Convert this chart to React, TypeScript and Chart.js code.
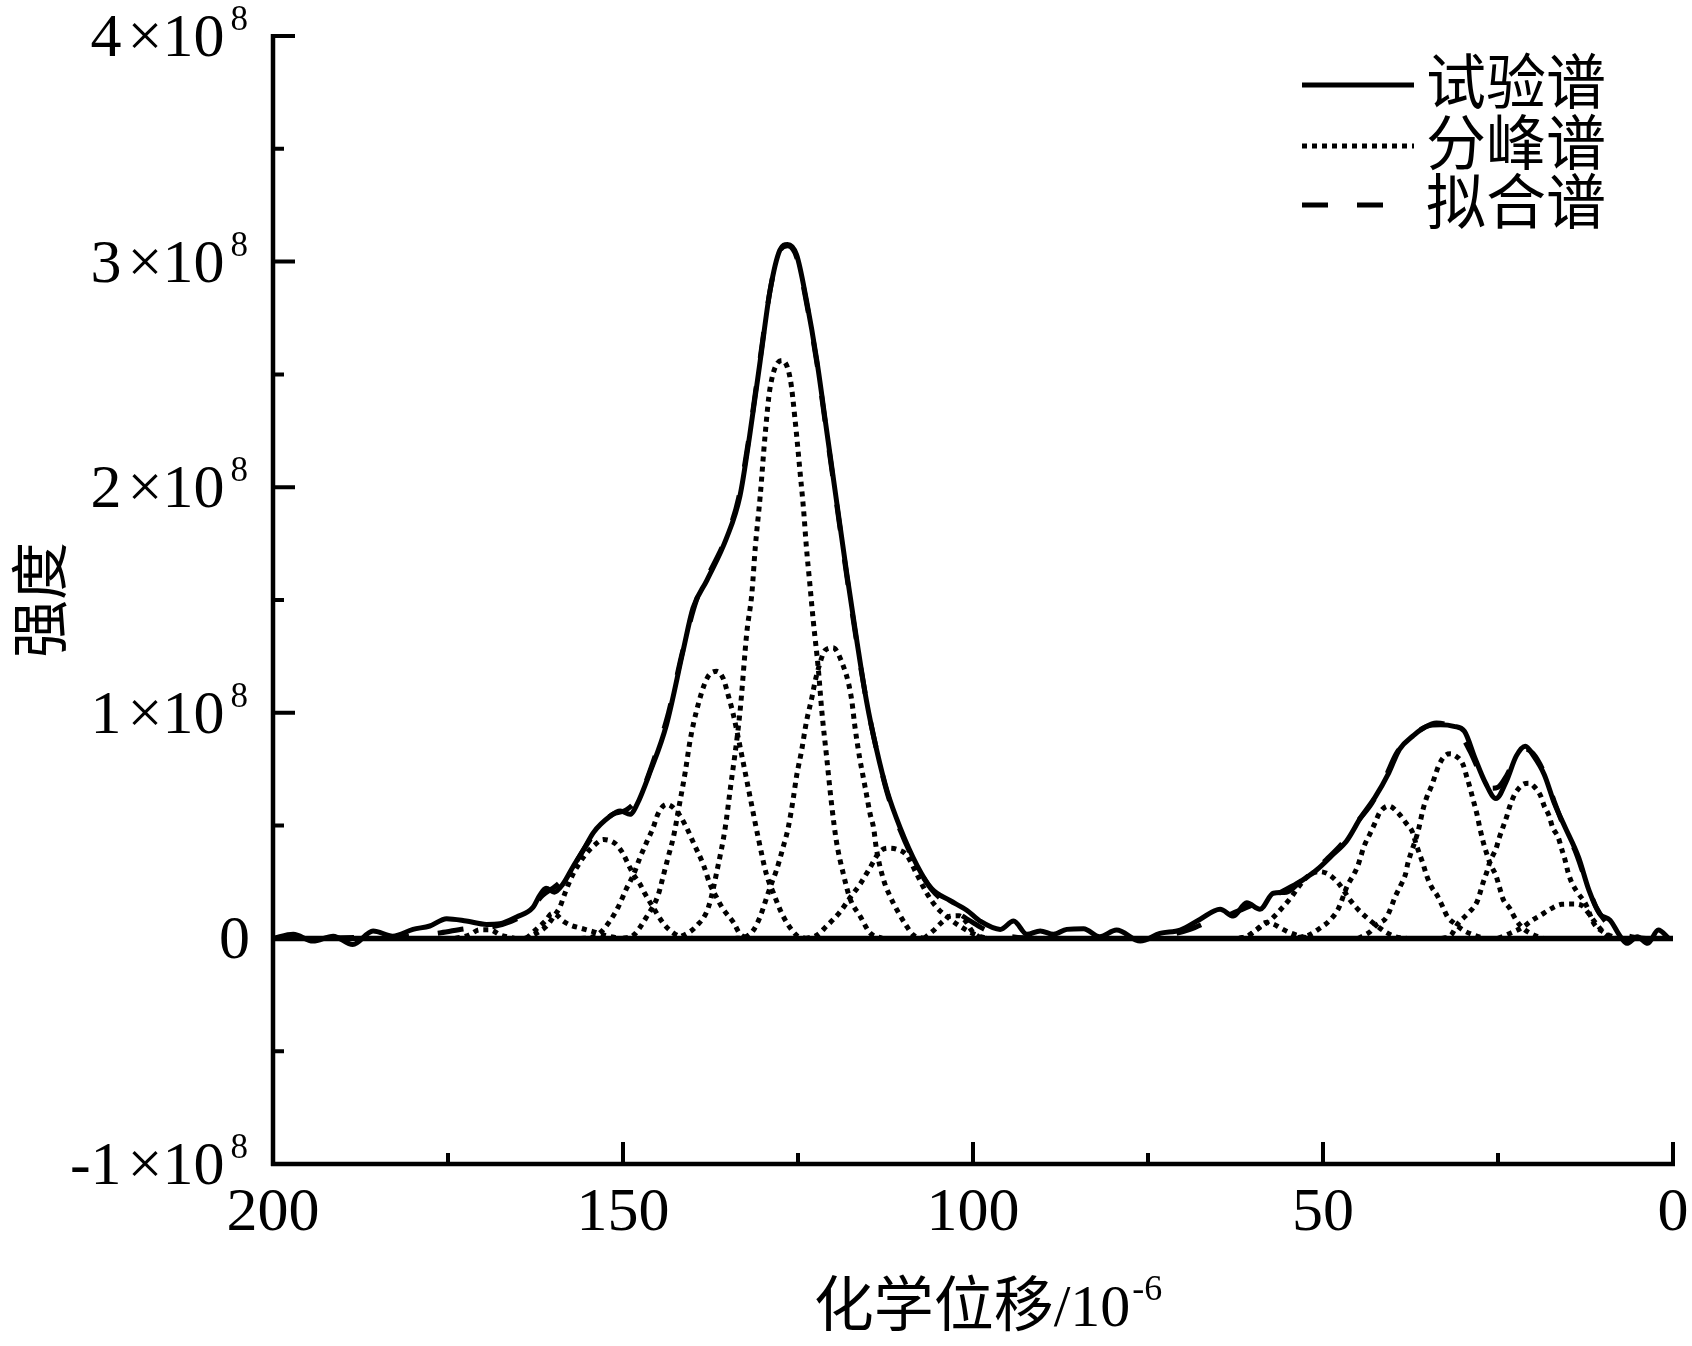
import { useEffect, useRef } from "react";
import { Chart, registerables } from "chart.js";

Chart.register(...registerables);

// 化学位移 (10^-6) / 强度 (×10^8)
const expShift = [
  200, 197.1, 194.3, 191.4, 188.6, 185.7, 182.9, 180, 177.6, 175.2, 172.4, 169.5, 167.6, 165.2,
  162.9, 161.9, 161, 159.8, 158.6, 157.1, 155.7, 154.2, 151.9, 150.4, 149, 148, 146.1, 143.8,
  141.4, 140, 138, 135.2, 133.3, 131.9, 130.4, 129, 127.6, 126.5, 125.2, 123.8, 122.3, 120.9,
  119.5, 118, 116.6, 115.2, 113.8, 112.3, 110.4, 108, 105.9, 103.3, 100.9, 99, 96.1, 94.2, 92.3,
  90.4, 88.5, 86.6, 84.2, 81.9, 79.5, 76.1, 73.3, 70.4, 67.6, 64.7, 62.8, 60.9, 59, 57.1, 55.2,
  53.3, 51, 48.5, 46.6, 44.6, 42.6, 40.6, 39.1, 37.2, 35.2, 33.2, 31.3, 29.8, 28.3, 26.8, 25.3,
  23.8, 22.4, 21.1, 19.9, 18.4, 16.9, 15.4, 13.5, 12, 10.5, 9, 7.5, 6.6, 5.1, 3.6, 2.1, 0.6,
];
const expIntensity = [
  0, 0.018, -0.012, 0.01, -0.027, 0.033, 0.01, 0.04, 0.055, 0.087, 0.077, 0.062, 0.065, 0.095,
  0.136, 0.19, 0.222, 0.205, 0.24, 0.32, 0.39, 0.47, 0.54, 0.565, 0.55, 0.594, 0.74, 0.946,
  1.277, 1.464, 1.588, 1.775, 1.96, 2.23, 2.56, 2.87, 3.05, 3.076, 3.03, 2.83, 2.56, 2.25,
  1.94, 1.61, 1.32, 1.05, 0.84, 0.656, 0.49, 0.324, 0.22, 0.168, 0.125, 0.077, 0.04, 0.077, 0.018,
  0.033, 0.018, 0.04, 0.043, 0.007, 0.037, -0.012, 0.022, 0.037, 0.084, 0.129, 0.099, 0.158, 0.129,
  0.2, 0.205, 0.25, 0.301, 0.374, 0.433, 0.536, 0.624, 0.734, 0.837, 0.896, 0.94, 0.947, 0.94,
  0.918, 0.8, 0.69, 0.62, 0.697, 0.808, 0.852, 0.808, 0.727, 0.595, 0.492, 0.36, 0.213, 0.11,
  0.081, 0.007, -0.022, 0.007, -0.022, 0.037, 0,
];

const fitShift = [
  200, 190, 180, 176, 172, 169, 166, 163.5, 161.5, 159.5, 157.5, 155.5, 153.5, 151.5, 149.5, 147.5,
  145.5, 143.5, 141.5, 139.5, 137.5, 135.5, 133.5, 132, 130.5, 129, 127.7, 126.5, 125.2, 123.8,
  122.3, 120.9, 119.5, 118, 116.6, 115.2, 113.8, 112.3, 110.4, 108, 106, 104, 102, 100, 98, 95, 90,
  75, 72, 69, 66, 63, 60, 57, 54.5, 52, 49.5, 47, 45, 43, 41, 39.5, 37.5, 35.5, 33.8, 32.2, 30.5,
  29, 27.5, 26, 25, 23.8, 22.5, 21.2, 20, 18.5, 17, 15.5, 14, 12.5, 11, 9.5, 8, 6, 3, 0,
];
const fitIntensity = [
  0, 0.003, 0.01, 0.025, 0.045, 0.05, 0.075, 0.12, 0.19, 0.235, 0.3, 0.4, 0.49, 0.55, 0.57, 0.64,
  0.8, 1.0, 1.27, 1.5, 1.63, 1.76, 1.95, 2.22, 2.55, 2.87, 3.04, 3.07, 3.02, 2.82,
  2.55, 2.24, 1.93, 1.6, 1.31, 1.05, 0.84, 0.65, 0.48, 0.32, 0.22, 0.16, 0.11, 0.07, 0.035, 0.01, 0,
  0, 0.015, 0.04, 0.08, 0.11, 0.15, 0.19, 0.23, 0.28, 0.35, 0.43, 0.52, 0.6, 0.72, 0.82, 0.89, 0.935,
  0.955, 0.945, 0.91, 0.83, 0.73, 0.665, 0.67, 0.72, 0.8, 0.84, 0.82, 0.74, 0.61, 0.49, 0.39, 0.26,
  0.14, 0.07, 0.03, 0.008, 0, 0,
];

// 分峰谱: component peaks as [shift, intensity]
const peak170 = [[174, 0], [172, 0.015], [170.5, 0.038], [169, 0.038], [167.5, 0.015], [165.5, 0]];
const peak160 = [
  [163.8, 0], [162.4, 0.04], [161, 0.08], [160.2, 0.11], [159.5, 0.104], [158.6, 0.078], [157.6, 0.06],
  [156, 0.045], [154.3, 0.03], [152.4, 0.012], [150.5, 0],
];
const peak153 = [
  [164, 0], [162.3, 0.024], [160.9, 0.055], [159.9, 0.097], [159, 0.14], [158.3, 0.2], [157.3, 0.275],
  [156.4, 0.325], [155.4, 0.37], [154.2, 0.41], [152.8, 0.438], [151.1, 0.42], [150, 0.376],
  [149.2, 0.325], [148.5, 0.283], [147.6, 0.242], [146.9, 0.2], [145.9, 0.148], [144.2, 0.065],
  [142.8, 0.024], [141.4, 0.003], [140, 0],
];
const peak144 = [
  [156, 0], [154.7, 0.003], [153.3, 0.024], [151.9, 0.076], [150.7, 0.138], [149.5, 0.221], [148.5, 0.283],
  [147.6, 0.356], [146.6, 0.428], [145.7, 0.49], [145, 0.552], [143.8, 0.594], [142.3, 0.563],
  [140.9, 0.49], [140, 0.428], [138.5, 0.325], [137.6, 0.242], [136.6, 0.18], [135.7, 0.13],
  [134.2, 0.07], [133.3, 0.02], [132, 0],
];
const peak137 = [
  [150, 0], [148.5, 0.014], [146.6, 0.097], [145, 0.19], [144.2, 0.283], [143.5, 0.366], [142.8, 0.449],
  [141.9, 0.6], [141.1, 0.739], [140.4, 0.88], [139.5, 1.008], [138, 1.153], [136.6, 1.184],
  [135.7, 1.153], [134.9, 1.07], [134.2, 0.987], [133.1, 0.822], [131.9, 0.635], [130.7, 0.449],
  [129.5, 0.283], [128.5, 0.2], [127.1, 0.097], [125.2, 0.014], [124, 0],
];
const peak127 = [
  [143, 0], [141.6, 0.01], [139.5, 0.055], [137.8, 0.138], [136.4, 0.325], [135.4, 0.49], [134.7, 0.656],
  [133.3, 1.0], [132.3, 1.36], [131.6, 1.526], [131.1, 1.734], [130.4, 1.961], [129.7, 2.231],
  [129, 2.438], [127.3, 2.562], [126.1, 2.479], [125.4, 2.293], [124.7, 2.065], [124.2, 1.899],
  [123.8, 1.734], [123.3, 1.568], [122.8, 1.402], [122.1, 1.195], [121.6, 1.008], [120.9, 0.801],
  [120.2, 0.594], [119.5, 0.428], [118.5, 0.283], [117.6, 0.179], [116.1, 0.097], [114.7, 0.024], [113, 0],
];
const peak120 = [
  [134, 0], [132.8, 0.003], [131.4, 0.035], [130.4, 0.097], [129.5, 0.179], [128.8, 0.242], [128.1, 0.3],
  [127.1, 0.407], [126.4, 0.49], [125.7, 0.615], [125.2, 0.72], [124.5, 0.83], [123.8, 0.96],
  [123, 1.07], [122.6, 1.133], [122.1, 1.195], [121.1, 1.278], [120, 1.288], [118.5, 1.205],
  [117.8, 1.133], [117.3, 1.05], [116.9, 0.946], [116.2, 0.801], [115.7, 0.718], [115.2, 0.635],
  [114.7, 0.552], [114.2, 0.49], [113.8, 0.397], [112.8, 0.262], [111.9, 0.19], [110.7, 0.117],
  [109.5, 0.055], [108.5, 0.014], [107, 0],
];
const peak112 = [
  [124, 0], [122.3, 0.014], [120.9, 0.055], [119, 0.117], [117.6, 0.179], [116.1, 0.242], [114.7, 0.314],
  [113.3, 0.385], [112.1, 0.4], [110.9, 0.395], [109.5, 0.37], [108, 0.283], [106.6, 0.2],
  [105.2, 0.138], [103.3, 0.086], [101.4, 0.045], [99.5, 0.014], [98, 0],
];
const peak103 = [
  [107, 0], [105.7, 0.033], [104.5, 0.07], [103.3, 0.098], [102, 0.1], [100.9, 0.07], [100.2, 0.035],
  [99.2, 0.008], [98, 0],
];
const peak58 = [
  [62, 0], [60.5, 0.015], [59.4, 0.04], [58.2, 0.07], [57.2, 0.065], [56, 0.045], [54.7, 0.025],
  [53, 0.008], [51.5, 0],
];
const peak50 = [
  [62, 0], [60.9, 0.007], [59.9, 0.03], [58.5, 0.06], [57.4, 0.085], [55.7, 0.14], [54.5, 0.184],
  [53.5, 0.228], [52, 0.28], [50.6, 0.296], [49.3, 0.286], [47.8, 0.245], [46.1, 0.169], [45.1, 0.132],
  [43.6, 0.088], [42.1, 0.051], [41.1, 0.029], [39.6, 0.007], [38, 0],
];
const peak41 = [
  [55, 0], [53.5, 0.004], [52, 0.015], [50.5, 0.044], [49, 0.081], [47.8, 0.132], [46.6, 0.228],
  [45.1, 0.316], [44.1, 0.411], [43.3, 0.463], [42.6, 0.51], [41.9, 0.558], [40.6, 0.587],
  [39.2, 0.554], [38.2, 0.514], [37.2, 0.47], [36.7, 0.418], [36.2, 0.374], [35.7, 0.33],
  [35.2, 0.279], [34.5, 0.228], [33.7, 0.191], [33, 0.147], [32.2, 0.095], [31.2, 0.066],
  [30, 0.037], [28.5, 0.015], [27, 0],
];
const peak32 = [
  [45, 0], [43.3, 0.029], [42.4, 0.059], [40.9, 0.095], [39.6, 0.191], [38.9, 0.235], [38.2, 0.286],
  [37.9, 0.33], [37.4, 0.382], [36.9, 0.426], [36.4, 0.477], [35.7, 0.573], [35.2, 0.624],
  [34.5, 0.675], [34, 0.72], [33.5, 0.764], [32.5, 0.812], [31.8, 0.818], [31.2, 0.812], [30, 0.771],
  [29.5, 0.72], [29, 0.668], [28.6, 0.62], [28, 0.55], [27.6, 0.49], [27.1, 0.426], [26.6, 0.374],
  [26.1, 0.33], [25.3, 0.279], [24.8, 0.228], [24.3, 0.176], [23.3, 0.132], [22.4, 0.081],
  [21.4, 0.044], [19.9, 0.015], [18.5, 0],
];
const peak21 = [
  [33, 0], [31.7, 0.015], [30.7, 0.066], [29.3, 0.11], [28, 0.162], [27.6, 0.198], [27.1, 0.25],
  [26.6, 0.294], [26.1, 0.345], [25.3, 0.396], [24.8, 0.448], [24.3, 0.492], [23.8, 0.536],
  [23.3, 0.587], [22.6, 0.639], [21.4, 0.683], [20.6, 0.688], [19.9, 0.675], [18.9, 0.631],
  [18.4, 0.587], [17.7, 0.543], [17.2, 0.492], [16.4, 0.448], [15.9, 0.396], [15.4, 0.345],
  [15, 0.294], [14.5, 0.25], [13.7, 0.206], [12.5, 0.154], [11.3, 0.066], [10, 0.029], [8.5, 0.007], [7, 0],
];
const peak15 = [
  [25, 0], [23.3, 0.022], [21.4, 0.051], [20.1, 0.081], [18.9, 0.103], [17.4, 0.132], [15.9, 0.151],
  [14.2, 0.152], [13, 0.145], [12.2, 0.117], [11, 0.066], [9.5, 0.015], [8.3, 0],
];
const componentPeaks = [
  peak170, peak160, peak153, peak144, peak137, peak127, peak120, peak112, peak103,
  peak58, peak50, peak41, peak32, peak21, peak15,
];

const zeroShift = [200, 0];
const zeroIntensity = [0, 0];

const xMajorTicks = [200, 150, 100, 50, 0];
const xMinorTicks = [175, 125, 75, 25];
const yMajorTicks = [-1, 0, 1, 2, 3, 4];
const yMinorTicks = [-0.5, 0.5, 1.5, 2.5, 3.5];
const yTickExponent = "8";
const legendLabels = ["试验谱", "分峰谱", "拟合谱"];
const xTitle = "化学位移/10";
const xTitleExponent = "-6";
const yTitle = "强度";

const SERIF = '"Liberation Serif", "Times New Roman", serif';
const MIXED = '"Liberation Serif", "Noto Sans CJK SC", serif';
const CJK = '"Noto Sans CJK SC", sans-serif';

const SOLID: number[] = [];
const DOTTED = [5, 5];
const DASHED = [26, 29];

function toPoints(xs: number[], ys: number[]) {
  return xs.map((x, i) => ({ x, y: ys[i] }));
}

const decorPlugin = {
  id: "decor",
  afterDraw(chart: any) {
    const { ctx, chartArea: a, scales } = chart;
    const xs = scales.x;
    const ys = scales.y;
    ctx.save();
    ctx.strokeStyle = "#000";
    ctx.fillStyle = "#000";
    ctx.setLineDash([]);
    ctx.lineCap = "butt";

    // axis lines
    ctx.lineWidth = 4.5;
    ctx.beginPath();
    ctx.moveTo(a.left, a.top - 2);
    ctx.lineTo(a.left, a.bottom + 2);
    ctx.moveTo(a.left - 2, a.bottom);
    ctx.lineTo(a.right + 2, a.bottom);
    ctx.stroke();

    // ticks, pointing into the plot
    ctx.lineWidth = 4;
    ctx.beginPath();
    yMajorTicks.forEach((v) => {
      const y = ys.getPixelForValue(v);
      ctx.moveTo(a.left, y);
      ctx.lineTo(a.left + 22, y);
    });
    yMinorTicks.forEach((v) => {
      const y = ys.getPixelForValue(v);
      ctx.moveTo(a.left, y);
      ctx.lineTo(a.left + 11, y);
    });
    xMajorTicks.forEach((v) => {
      const x = xs.getPixelForValue(v);
      ctx.moveTo(x, a.bottom);
      ctx.lineTo(x, a.bottom - 22);
    });
    xMinorTicks.forEach((v) => {
      const x = xs.getPixelForValue(v);
      ctx.moveTo(x, a.bottom);
      ctx.lineTo(x, a.bottom - 11);
    });
    ctx.stroke();

    // y tick labels: n×10^8
    ctx.textBaseline = "alphabetic";
    const labelRight = a.left - 25;
    yMajorTicks.forEach((v) => {
      const y = ys.getPixelForValue(v);
      if (v === 0) {
        ctx.font = `62px ${SERIF}`;
        ctx.textAlign = "right";
        ctx.fillText("0", labelRight + 2, y + 20);
        return;
      }
      ctx.font = `35px ${SERIF}`;
      ctx.textAlign = "right";
      const supW = ctx.measureText(yTickExponent).width;
      ctx.fillText(yTickExponent, labelRight, y - 6);
      ctx.font = `62px ${SERIF}`;
      const base = "×10";
      const baseRight = labelRight - supW - 6;
      ctx.fillText(base, baseRight, y + 20);
      const baseW = ctx.measureText(base).width;
      ctx.fillText(String(v), baseRight - baseW - 6, y + 20);
    });

    // x tick labels
    ctx.font = `62px ${SERIF}`;
    ctx.textAlign = "center";
    xMajorTicks.forEach((v) => {
      ctx.fillText(String(v), xs.getPixelForValue(v), a.bottom + 66);
    });

    // x title with superscript
    ctx.font = `60px ${MIXED}`;
    const tW = ctx.measureText(xTitle).width;
    ctx.font = `36px ${SERIF}`;
    const eW = ctx.measureText(xTitleExponent).width;
    const tX = (a.left + a.right) / 2 + 15 - (tW + eW + 2) / 2;
    ctx.textAlign = "left";
    ctx.font = `60px ${MIXED}`;
    ctx.fillText(xTitle, tX, a.bottom + 162);
    ctx.font = `36px ${SERIF}`;
    ctx.fillText(xTitleExponent, tX + tW + 2, a.bottom + 162 - 26);

    // y title
    ctx.save();
    ctx.translate(39, (a.top + a.bottom) / 2);
    ctx.rotate(-Math.PI / 2);
    ctx.font = `58px ${CJK}`;
    ctx.textAlign = "center";
    ctx.textBaseline = "middle";
    ctx.fillText(yTitle, 0, 0);
    ctx.restore();

    // legend
    const rows = [85, 146, 205];
    const dashes = [SOLID, DOTTED, DASHED];
    const widths = [5, 5, 5];
    const lengths = [112, 112, 82];
    legendLabels.forEach((label, i) => {
      ctx.setLineDash(dashes[i]);
      ctx.lineWidth = widths[i];
      ctx.beginPath();
      ctx.moveTo(1302, rows[i]);
      ctx.lineTo(1302 + lengths[i], rows[i]);
      ctx.stroke();
      ctx.setLineDash([]);
      ctx.font = `60px ${CJK}`;
      ctx.textAlign = "left";
      ctx.textBaseline = "middle";
      ctx.fillText(label, 1426, rows[i] - 4);
    });

    ctx.restore();
  },
};

export default function App() {
  const canvasRef = useRef<HTMLCanvasElement>(null);
  const chartRef = useRef<Chart | null>(null);

  useEffect(() => {
    document.body.style.margin = "0";
    document.body.style.background = "#fff";
    if (!canvasRef.current) return;
    if (chartRef.current) {
      chartRef.current.destroy();
      chartRef.current = null;
    }
    const ctx = canvasRef.current.getContext("2d");
    if (!ctx) return;

    const line = {
      borderColor: "#000",
      backgroundColor: "#000",
      pointRadius: 0,
      fill: false,
      cubicInterpolationMode: "monotone" as const,
      borderCapStyle: "butt" as const,
    };

    chartRef.current = new Chart(ctx, {
      type: "line",
      data: {
        datasets: [
          {
            ...line,
            label: legendLabels[0],
            data: toPoints(expShift, expIntensity),
            borderWidth: 5,
            order: 0,
          },
          {
            ...line,
            label: legendLabels[2],
            data: toPoints(fitShift, fitIntensity),
            borderWidth: 5,
            borderDash: DASHED,
            order: 1,
          },
          ...componentPeaks.map((p) => ({
            ...line,
            label: legendLabels[1],
            data: p.map(([x, y]) => ({ x, y })),
            borderWidth: 5,
            borderDash: DOTTED,
            order: 2,
          })),
          {
            ...line,
            label: "0",
            data: toPoints(zeroShift, zeroIntensity),
            borderWidth: 5.5,
            order: 3,
          },
        ],
      },
      options: {
        responsive: false,
        animation: false,
        layout: { padding: { top: 36, right: 19, left: 0, bottom: 0 } },
        plugins: {
          legend: { display: false },
          tooltip: { enabled: false },
        },
        scales: {
          x: {
            type: "linear",
            min: 0,
            max: 200,
            reverse: true,
            grid: { display: false },
            border: { display: false },
            ticks: { display: false },
            afterFit: (s: any) => {
              s.height = 182;
            },
          },
          y: {
            type: "linear",
            min: -1,
            max: 4,
            grid: { display: false },
            border: { display: false },
            ticks: { display: false },
            afterFit: (s: any) => {
              s.width = 273;
            },
          },
        },
      },
      plugins: [decorPlugin],
    });

    return () => {
      chartRef.current?.destroy();
      chartRef.current = null;
    };
  }, []);

  return (
    <div style={{ width: "1692px", height: "1346px", background: "#fff" }}>
      <canvas ref={canvasRef} width={1692} height={1346} />
    </div>
  );
}
